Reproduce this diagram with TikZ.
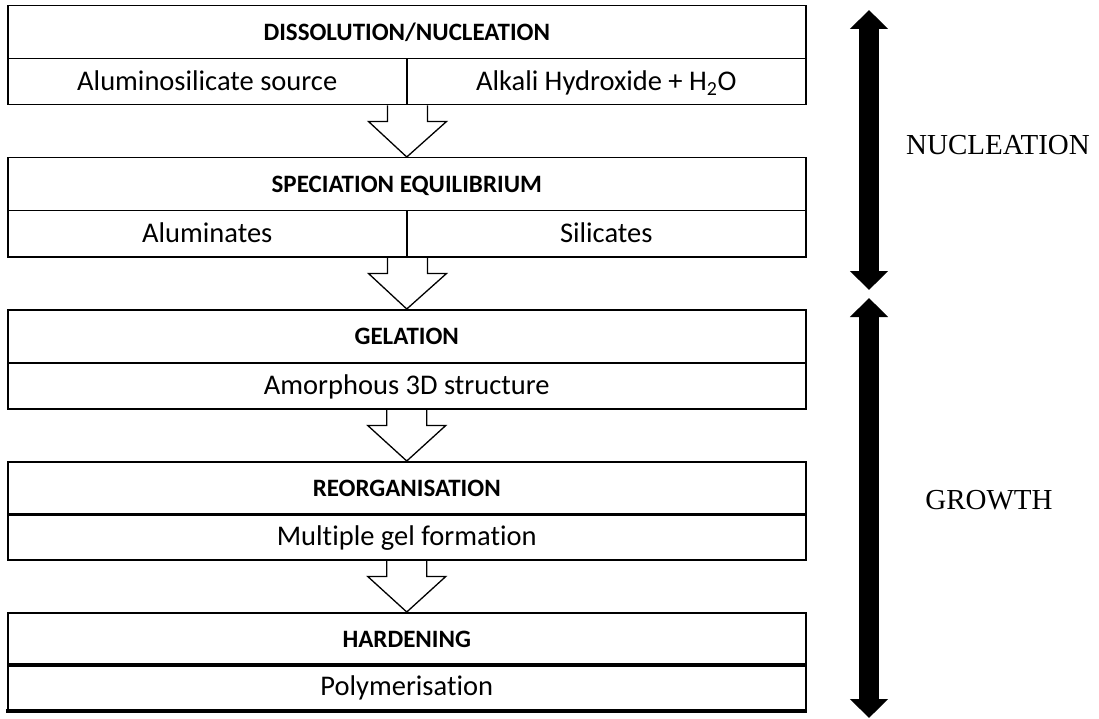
\documentclass[tikz,border=0pt]{standalone}
\usepackage{fontspec}
\setmainfont{Carlito}[Ligatures=NoCommon]
\newfontfamily\sidefont{Liberation Serif}
\usetikzlibrary{calc,arrows.meta}
\begin{document}
\begin{tikzpicture}[x=1pt,y=-1pt,
  box/.style={draw, line width=1.5pt, inner sep=0pt, anchor=north west, minimum height=46pt,
    text height=18pt, text depth=0pt, font=\fontsize{28.5}{32}\selectfont},
  hdr/.style={box, minimum width=798pt, minimum height=53pt, text height=16pt,
    font=\bfseries\fontsize{25}{28}\selectfont},
  full/.style={box, minimum width=798pt},
  half/.style={box, minimum width=399pt},
  blk/.style={line width=1.3pt, line join=miter},
  bigarrow/.style={line width=20pt, {Triangle[width=37pt,length=19pt]}-{Triangle[width=37pt,length=19pt]}},
  side/.style={font=\sidefont\fontsize{29}{33}\selectfont, inner sep=0pt}]
\useasboundingbox (0,0) rectangle (1099,719);
% box 1
\node[hdr] (h1) at (7,5) {DISSOLUTION/NUCLEATION};
\node[half] (l1) at (7,58) {Aluminosilicate source};
\node[half] (r1) at (406,58) {Alkali Hydroxide + H\textsubscript{2}O};
% box 2
\node[hdr] (h2) at (7,157) {SPECIATION EQUILIBRIUM};
\node[half] (l2) at (7,210) {Aluminates};
\node[half] (r2) at (406,210) {Silicates};
% box 3
\node[hdr] (h3) at (7,309) {GELATION};
\node[full] (s3) at (7,362) {Amorphous 3D structure};
% box 4
\node[hdr] (h4) at (7,461) {REORGANISATION};
\node[full] (s4) at (7,513) {Multiple gel formation};
% box 5
\node[hdr] (h5) at (7,612) {HARDENING};
\node[full] (s5) at (7,663) {Polymerisation};
\draw[line width=4pt] ($(s5.south west)+(-0.75,0)$) -- ($(s5.south east)+(0.75,0)$);
% block arrows
\foreach \a/\b in {l1.south east/h2.north, l2.south east/h3.north, s3.south/h4.north, s4.south/h5.north}{
  \draw[blk] ($(\a)+(-20,0)$) -- ($(\a)+(-20,16)$) -- ($(\a)+(-39,16)$) -- (\b)
    -- ($(\a)+(39,16)$) -- ($(\a)+(20,16)$) -- ($(\a)+(20,0)$);
}
% side arrows
\coordinate (nt) at (869,10);
\coordinate (nb) at (869,290);
\coordinate (gt) at (869,298);
\coordinate (gb) at (869,718);
\draw[bigarrow] (nt) -- (nb);
\draw[bigarrow] (gt) -- (gb);
\node[side] (nuc) at (998,145) {NUCLEATION};
\node[side] (gro) at (989,500) {GROWTH};
\end{tikzpicture}
\end{document}
